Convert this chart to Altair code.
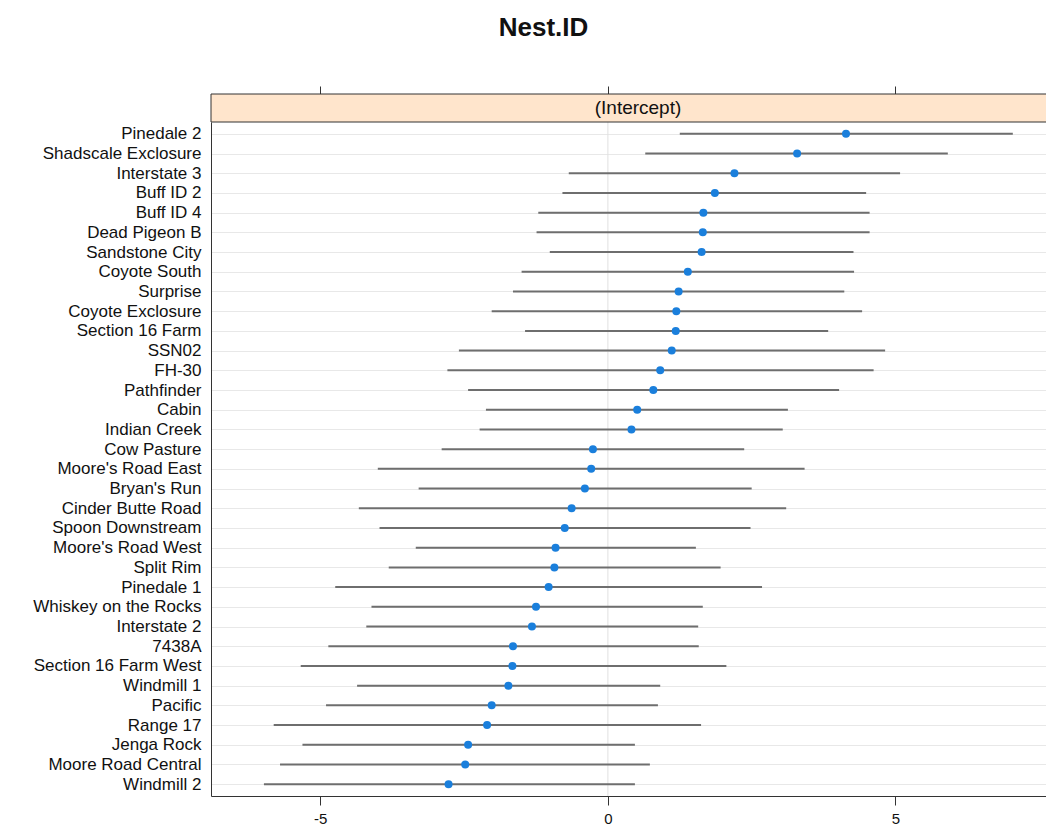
import altair as alt
import pandas as pd

names = ["Pinedale 2", "Shadscale Exclosure", "Interstate 3", "Buff ID 2", "Buff ID 4",
         "Dead Pigeon B", "Sandstone City", "Coyote South", "Surprise", "Coyote Exclosure",
         "Section 16 Farm", "SSN02", "FH-30", "Pathfinder", "Cabin", "Indian Creek",
         "Cow Pasture", "Moore's Road East", "Bryan's Run", "Cinder Butte Road",
         "Spoon Downstream", "Moore's Road West", "Split Rim", "Pinedale 1",
         "Whiskey on the Rocks", "Interstate 2", "7438A", "Section 16 Farm West",
         "Windmill 1", "Pacific", "Range 17", "Jenga Rock", "Moore Road Central", "Windmill 2"]
est = [4.14, 3.29, 2.20, 1.86, 1.66, 1.65, 1.63, 1.39, 1.23, 1.19, 1.18, 1.11, 0.91, 0.79,
       0.51, 0.41, -0.26, -0.29, -0.40, -0.63, -0.75, -0.91, -0.93, -1.03, -1.25, -1.32,
       -1.65, -1.66, -1.73, -2.02, -2.10, -2.43, -2.48, -2.77]
lo = [1.25, 0.65, -0.68, -0.79, -1.21, -1.24, -1.01, -1.50, -1.65, -2.02, -1.44, -2.59,
      -2.79, -2.43, -2.12, -2.23, -2.89, -4.00, -3.29, -4.33, -3.97, -3.34, -3.81, -4.74,
      -4.11, -4.20, -4.86, -5.34, -4.36, -4.90, -5.81, -5.31, -5.70, -5.98]
hi = [7.04, 5.91, 5.08, 4.49, 4.55, 4.55, 4.27, 4.28, 4.11, 4.42, 3.83, 4.82, 4.62, 4.02,
      3.13, 3.04, 2.37, 3.42, 2.50, 3.10, 2.48, 1.53, 1.96, 2.68, 1.65, 1.57, 1.58, 2.06,
      0.91, 0.87, 1.62, 0.47, 0.73, 0.47]
tick_values = [-5, 0, 5]
x_domain = [-6.9, 7.617]
strip_label = ["(Intercept)"]
zero_line = [0]

df = pd.DataFrame({"name": names, "est": est, "lo": lo, "hi": hi})
strip_df = pd.DataFrame({"term": strip_label})
zero_df = pd.DataFrame({"x": zero_line})

W, H = 835, 674
STRIP = 28
FONT = "Liberation Sans"
xscale = alt.Scale(domain=x_domain, nice=False, zero=False)
yscale = alt.Scale(type="point", padding=0.6)

yaxis = alt.Axis(title=None, ticks=False, labelFontSize=17, labelPadding=10, grid=True,
                 gridColor="#e8e8e8", gridWidth=1, domain=True, domainColor="#333333",
                 labelFont=FONT, labelColor="#111111")

zero = alt.Chart(zero_df).mark_rule(color="#e0e0e0", strokeWidth=1).encode(
    x=alt.X("x:Q", scale=xscale,
            axis=alt.Axis(orient="top", values=tick_values, labels=False, domain=False,
                          tickSize=8, offset=STRIP, title=None, tickColor="#333333",
                          grid=False))
)

segs = alt.Chart(df).mark_rule(color="#6e6e6e", strokeWidth=2).encode(
    x=alt.X("lo:Q", scale=xscale,
            axis=alt.Axis(orient="bottom", values=tick_values, title=None, tickSize=9,
                          labelFontSize=15, labelPadding=6, domainColor="#333333",
                          tickColor="#333333", labelColor="#111111", grid=False,
                          labelFont=FONT, labelExpr="'' + datum.value")),
    x2="hi:Q",
    y=alt.Y("name:N", sort=names, scale=yscale, axis=yaxis),
)

pts = alt.Chart(df).mark_circle(size=64, color="#1a7fdc", opacity=1).encode(
    x=alt.X("est:Q", scale=xscale, axis=None),
    y=alt.Y("name:N", sort=names, scale=yscale, axis=yaxis),
)

strip_rect = alt.Chart(strip_df).mark_rect(fill="#ffe5cc", stroke="#333333", strokeWidth=1).encode(
    x=alt.value(0), x2=alt.value(W + 12), y=alt.value(-STRIP), y2=alt.value(0)
)
strip_text = alt.Chart(strip_df).mark_text(fontSize=19, font=FONT, color="#111111").encode(
    x=alt.value(427), y=alt.value(-STRIP / 2), text="term:N"
)

chart = alt.layer(zero, segs, pts, strip_rect, strip_text).resolve_axis(
    x="independent"
).properties(
    width=W, height=H,
    autosize=alt.AutoSizeParams(type="none"),
    padding={"left": 203, "top": 114, "right": 0, "bottom": 32},
    title=alt.TitleParams("Nest.ID", fontSize=26, font=FONT, fontWeight="bold",
                          anchor="middle", frame="group", dx=-85, offset=45,
                          color="#111111"),
).configure_view(stroke=None)

chart.save("out.html", embed_options={"renderer": "svg", "actions": False})
